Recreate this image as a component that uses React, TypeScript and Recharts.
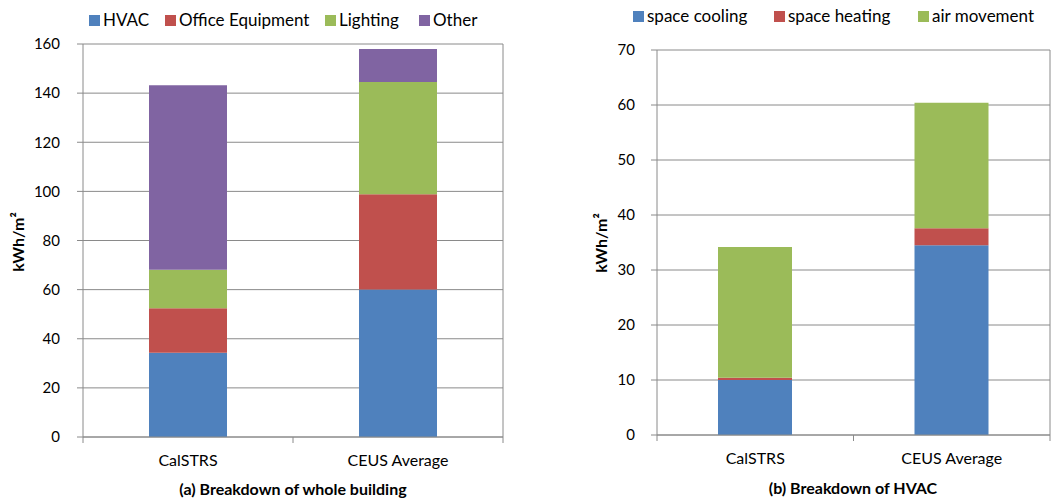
import { BarChart, Bar, XAxis, YAxis, CartesianGrid } from 'recharts'

const categories = ['CalSTRS', 'CEUS Average']

// (a) whole building, kWh/m2
const hvac = [34.3, 60.1]
const officeEquipment = [18.1, 38.7]
const lighting = [15.7, 45.7]
const other = [75.1, 13.5]
const wholeTicks = [0, 20, 40, 60, 80, 100, 120, 140, 160]

// (b) HVAC only, kWh/m2
const spaceCooling = [10.0, 34.5]
const spaceHeating = [0.4, 3.1]
const airMovement = [23.8, 22.8]
const hvacTicks = [0, 10, 20, 30, 40, 50, 60, 70]

const BLUE = '#4F81BD'
const RED = '#C0504D'
const GREEN = '#9BBB59'
const PURPLE = '#8064A2'
const GRID = '#8a8a8a'

const wholeData = categories.map((name, i) => ({
  name,
  hvac: hvac[i],
  office: officeEquipment[i],
  lighting: lighting[i],
  other: other[i]
}))

const hvacData = categories.map((name, i) => ({
  name,
  cooling: spaceCooling[i],
  heating: spaceHeating[i],
  air: airMovement[i]
}))

const wholeLegend = [
  { label: 'HVAC', color: BLUE },
  { label: 'Office Equipment', color: RED },
  { label: 'Lighting', color: GREEN },
  { label: 'Other', color: PURPLE }
]

const hvacLegend = [
  { label: 'space cooling', color: BLUE },
  { label: 'space heating', color: RED },
  { label: 'air movement', color: GREEN }
]

const TICK_SIZE = 6
const TICK_MARGIN = 12

function CategoryTick(props: any) {
  const { x, y, payload, index } = props
  const half = payload?.offset ?? 0
  const axisY = y - TICK_SIZE - TICK_MARGIN
  return (
    <g>
      {index === 0 && (
        <line x1={x - half} x2={x - half} y1={axisY} y2={axisY + TICK_SIZE} stroke={GRID} />
      )}
      <line x1={x + half} x2={x + half} y1={axisY} y2={axisY + TICK_SIZE} stroke={GRID} />
      <text x={x} y={y} dy="0.71em" textAnchor="middle" fill="#000" fontSize={16}>
        {payload.value}
      </text>
    </g>
  )
}

// legend drawn in html so it does not eat into the plot area
function LegendRow({ items, xs, top }: { items: { label: string; color: string }[]; xs: number[]; top: number }) {
  return (
    <>
      {items.map((it, i) => (
        <div
          key={it.label}
          style={{ position: 'absolute', left: xs[i], top, display: 'flex', alignItems: 'center', fontSize: 17, lineHeight: '20px', color: '#000', whiteSpace: 'nowrap' }}
        >
          <span style={{ width: 11, height: 11, background: it.color, marginRight: 3, display: 'inline-block' }} />
          <span>{it.label}</span>
        </div>
      ))}
    </>
  )
}

function YLabel({ cx, cy }: { cx: number; cy: number }) {
  return (
    <div
      style={{
        position: 'absolute',
        left: cx - 40,
        top: cy - 10,
        width: 80,
        height: 20,
        lineHeight: '20px',
        textAlign: 'center',
        fontWeight: 'bold',
        fontSize: 16,
        transform: 'rotate(-90deg)'
      }}
    >
      kWh/m²
    </div>
  )
}

function Title({ text, cx, top }: { text: string; cx: number; top: number }) {
  return (
    <div style={{ position: 'absolute', left: cx - 200, top, width: 400, textAlign: 'center', fontWeight: 'bold', fontSize: 16, lineHeight: '18px' }}>
      {text}
    </div>
  )
}

export default function App() {
  return (
    <div style={{ position: 'absolute', left: 0, top: 0, width: 1051, height: 499, background: '#fff', fontFamily: 'Lato, "Open Sans", sans-serif', overflow: 'hidden' }}>
      <div style={{ position: 'absolute', left: 0, top: 0 }}>
        <BarChart width={520} height={499} data={wholeData} margin={{ top: 44, right: 17, bottom: 32, left: 23 }}>
          <CartesianGrid vertical={true} verticalPoints={[503]} stroke={GRID} />
          <XAxis dataKey="name" height={30} axisLine={{ stroke: GRID }} tickLine={false} tickSize={TICK_SIZE} tickMargin={TICK_MARGIN} tick={<CategoryTick />} interval={0} />
          <YAxis width={60} domain={[0, 160]} ticks={wholeTicks} axisLine={{ stroke: GRID }} tickLine={{ stroke: GRID }} tickSize={6} tickMargin={17} tick={{ fill: '#000', fontSize: 15 }} />
          <Bar dataKey="hvac" stackId="a" fill={BLUE} barSize={78} isAnimationActive={false} />
          <Bar dataKey="office" stackId="a" fill={RED} barSize={78} isAnimationActive={false} />
          <Bar dataKey="lighting" stackId="a" fill={GREEN} barSize={78} isAnimationActive={false} />
          <Bar dataKey="other" stackId="a" fill={PURPLE} barSize={78} isAnimationActive={false} />
        </BarChart>
      </div>
      <div style={{ position: 'absolute', left: 530, top: 0 }}>
        <BarChart width={521} height={499} data={hvacData} margin={{ top: 50, right: 1, bottom: 34, left: 67 }}>
          <CartesianGrid vertical={true} verticalPoints={[1050 - 530]} stroke={GRID} />
          <XAxis dataKey="name" height={30} axisLine={{ stroke: GRID }} tickLine={false} tickSize={TICK_SIZE} tickMargin={TICK_MARGIN} tick={<CategoryTick />} interval={0} />
          <YAxis width={60} domain={[0, 70]} ticks={hvacTicks} axisLine={{ stroke: GRID }} tickLine={{ stroke: GRID }} tickSize={6} tickMargin={16} tick={{ fill: '#000', fontSize: 15 }} />
          <Bar dataKey="cooling" stackId="b" fill={BLUE} barSize={74} isAnimationActive={false} />
          <Bar dataKey="heating" stackId="b" fill={RED} barSize={74} isAnimationActive={false} />
          <Bar dataKey="air" stackId="b" fill={GREEN} barSize={74} isAnimationActive={false} />
        </BarChart>
      </div>

      <LegendRow items={wholeLegend} xs={[89, 165, 325, 419]} top={10} />
      <LegendRow items={hvacLegend} xs={[633, 774, 918]} top={6} />

      <YLabel cx={18} cy={242} />
      <YLabel cx={601} cy={243} />

      <Title text="(a) Breakdown of whole building" cx={293} top={480} />
      <Title text="(b) Breakdown of HVAC" cx={853} top={479} />
    </div>
  )
}
